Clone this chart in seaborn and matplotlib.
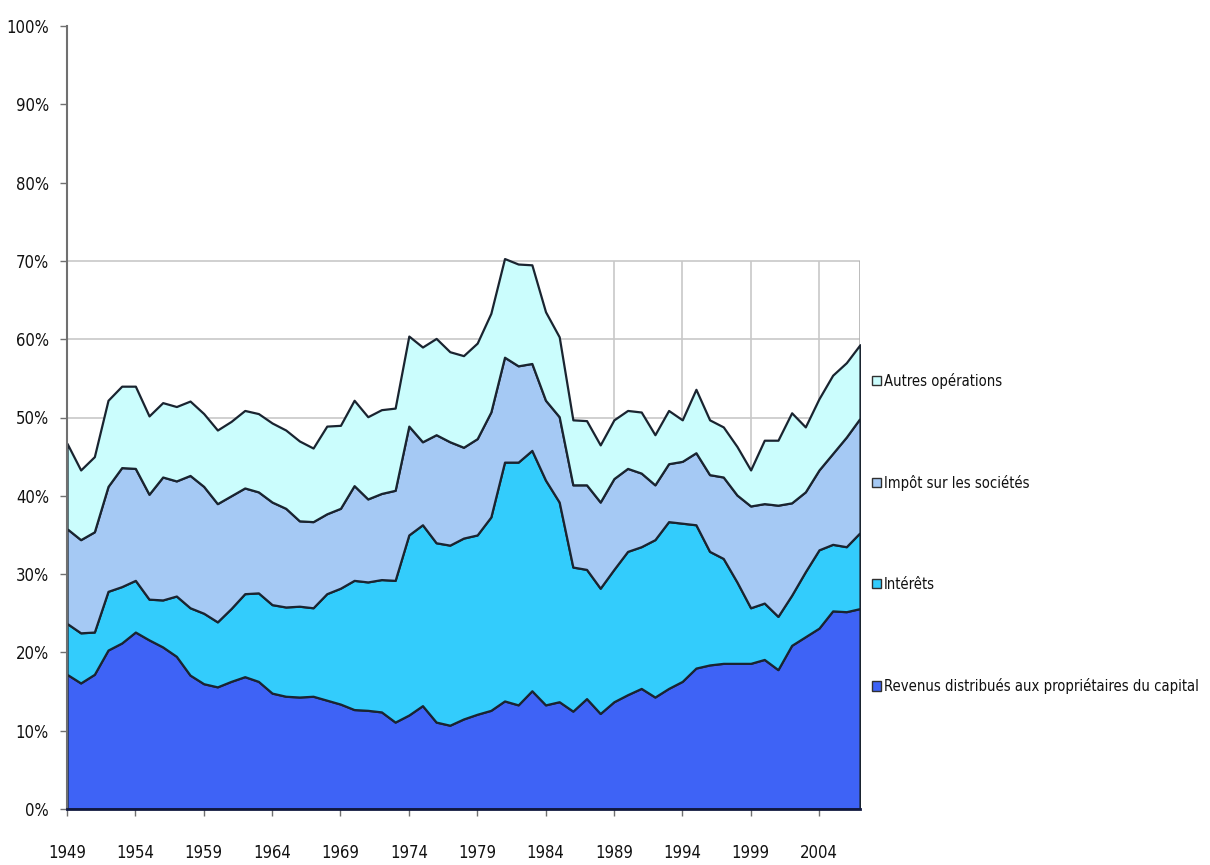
import numpy as np
import pandas as pd
import matplotlib
matplotlib.use("Agg")
import matplotlib.pyplot as plt
import seaborn as sns
from matplotlib import font_manager as fm

years = list(range(1949, 2008))

revenus = [17.2, 16.1, 17.2, 20.3, 21.2, 22.6, 21.6, 20.7, 19.5, 17.1,
           16.0, 15.6, 16.3, 16.9, 16.3, 14.8, 14.4, 14.3, 14.4, 13.9,
           13.4, 12.7, 12.6, 12.4, 11.1, 12.0, 13.2, 11.1, 10.7, 11.5,
           12.1, 12.6, 13.8, 13.3, 15.1, 13.3, 13.7, 12.5, 14.1, 12.2,
           13.7, 14.6, 15.4, 14.3, 15.4, 16.3, 18.0, 18.4, 18.6, 18.6,
           18.6, 19.1, 17.8, 20.9, 22.0, 23.1, 25.3, 25.2, 25.6]
interets = [6.5, 6.4, 5.4, 7.5, 7.2, 6.6, 5.2, 6.0, 7.7, 8.6,
            9.0, 8.3, 9.3, 10.6, 11.3, 11.3, 11.4, 11.6, 11.3, 13.6,
            14.8, 16.5, 16.4, 16.9, 18.1, 23.0, 23.1, 22.9, 23.0, 23.1,
            22.9, 24.7, 30.5, 31.0, 30.7, 28.7, 25.5, 18.4, 16.5, 16.0,
            16.9, 18.3, 18.1, 20.1, 21.3, 20.2, 18.3, 14.5, 13.4, 10.4,
            7.1, 7.2, 6.8, 6.4, 8.3, 10.0, 8.5, 8.3, 9.7]
impot = [12.1, 11.9, 12.8, 13.4, 15.2, 14.3, 13.4, 15.7, 14.7, 16.9,
         16.2, 15.1, 14.4, 13.5, 12.9, 13.1, 12.6, 10.9, 11.0, 10.2,
         10.2, 12.1, 10.6, 11.0, 11.5, 13.9, 10.6, 13.8, 13.2, 11.6,
         12.3, 13.4, 13.4, 12.3, 11.1, 10.2, 10.9, 10.5, 10.8, 11.0,
         11.6, 10.6, 9.4, 7.0, 7.4, 7.9, 9.2, 9.8, 10.4, 11.1,
         13.0, 12.7, 14.2, 11.8, 10.2, 10.2, 11.6, 14.0, 14.6]
autres = [10.9, 8.9, 9.6, 11.0, 10.4, 10.5, 10.0, 9.5, 9.5, 9.5,
          9.3, 9.4, 9.5, 9.9, 10.0, 10.1, 10.0, 10.2, 9.4, 11.2,
          10.6, 10.9, 10.5, 10.7, 10.5, 11.5, 12.1, 12.3, 11.5, 11.7,
          12.2, 12.6, 12.6, 13.0, 12.6, 11.3, 10.2, 8.3, 8.2, 7.3,
          7.5, 7.4, 7.8, 6.4, 6.8, 5.3, 8.1, 7.0, 6.4, 6.2,
          4.6, 8.1, 8.3, 11.5, 8.3, 9.1, 10.0, 9.5, 9.4]

labels = ["Revenus distribués aux propriétaires du capital", "Intérêts",
          "Impôt sur les sociétés", "Autres opérations"]
colors = ["#3E63F6", "#33CCFC", "#A5C9F4", "#CBFDFD"]
xtick_years = list(range(1949, 2005, 5))
ytick_vals = list(range(0, 101, 10))
grid_levels = list(range(10, 71, 10))
vgrid_years = [1989, 1994, 1999, 2004]

df = pd.DataFrame({"year": years, labels[0]: revenus, labels[1]: interets,
                   labels[2]: impot, labels[3]: autres})

sns.set_theme(style="white")
plt.rcParams["font.family"] = ["Liberation Sans", "DejaVu Sans"]


def pick_condensed():
    prefs = ["LiberationSansNarrow-Regular", "DejaVuSansCondensed.",
             "RobotoCondensed-Regular", "OpenSans_Condensed-Regular",
             "OpenSansCondensed", "NotoSans-Condensed.", "NotoSansCondensed-Regular",
             "Roboto_Condensed-Regular"]
    files = [f.fname for f in fm.fontManager.ttflist]
    for p in prefs:
        for fn in files:
            if p.lower() in fn.lower().replace(" ", ""):
                return fm.FontProperties(fname=fn)
    for fn in files:
        low = fn.lower()
        if ("narrow" in low or "condensed" in low) and not any(
                k in low for k in ["bold", "italic", "oblique", "light", "semi", "thin",
                                   "black", "medium", "extra"]):
            return fm.FontProperties(fname=fn)
    return None


cfp = pick_condensed()
if cfp is not None:
    tick_size, leg_size = 12.0, 10.6
else:
    cfp = fm.FontProperties(family=["Liberation Sans", "DejaVu Sans"])
    tick_size, leg_size = 11.5, 10.3

fig = plt.figure(figsize=(12.1, 8.65), dpi=100)
ax = fig.add_axes([67 / 1210, 1 - 809 / 865, (860 - 67) / 1210, (809 - 26) / 865])

for g in grid_levels:
    ax.axhline(g, color="#C8C8C8", lw=1.2, zorder=0)
ax.vlines(vgrid_years, 0, 70, color="#C8C8C8", lw=1.2, zorder=0)
ax.vlines([years[-1]], 0, 70, color="#B0B0B0", lw=1.2, zorder=0)

ax.stackplot(df["year"], *[df[l] for l in labels], colors=colors, labels=labels,
             edgecolor="#1a2430", linewidth=1.6, zorder=2)

ax.set_xlim(years[0], years[-1])
ax.set_ylim(0, 100)
ax.set_xticks(xtick_years)
ax.set_xticklabels([str(y) for y in xtick_years])
ax.set_yticks(ytick_vals)
ax.set_yticklabels([f"{v}%" for v in ytick_vals])
for t in ax.get_xticklabels() + ax.get_yticklabels():
    t.set_fontproperties(cfp)
    t.set_fontsize(tick_size)
    t.set_color("#111111")
ax.tick_params(axis="both", direction="out", length=5, width=1, color="#707070",
               left=True, bottom=True)
ax.tick_params(axis="y", pad=8)
ax.tick_params(axis="x", pad=20)
for s in ["top", "right"]:
    ax.spines[s].set_visible(False)
ax.spines["left"].set_color("#707070")
ax.spines["left"].set_linewidth(1.5)
ax.spines["bottom"].set_color("#101840")
ax.spines["bottom"].set_linewidth(2)
ax.spines["bottom"].set_zorder(3)

lp = cfp.copy()
lp.set_size(leg_size)
handles, labs = ax.get_legend_handles_labels()
leg = ax.legend(handles[::-1], labs[::-1], loc="center left",
                bbox_to_anchor=(0.999, 0.352), frameon=False, prop=lp,
                handlelength=0.6, handleheight=0.6, handletextpad=0.2,
                labelspacing=5.85)
for h in leg.legend_handles:
    h.set_edgecolor("#303030")
    h.set_linewidth(1)
for t in leg.get_texts():
    t.set_color("#111111")

fig.savefig("out.png", dpi=100, facecolor="white")
